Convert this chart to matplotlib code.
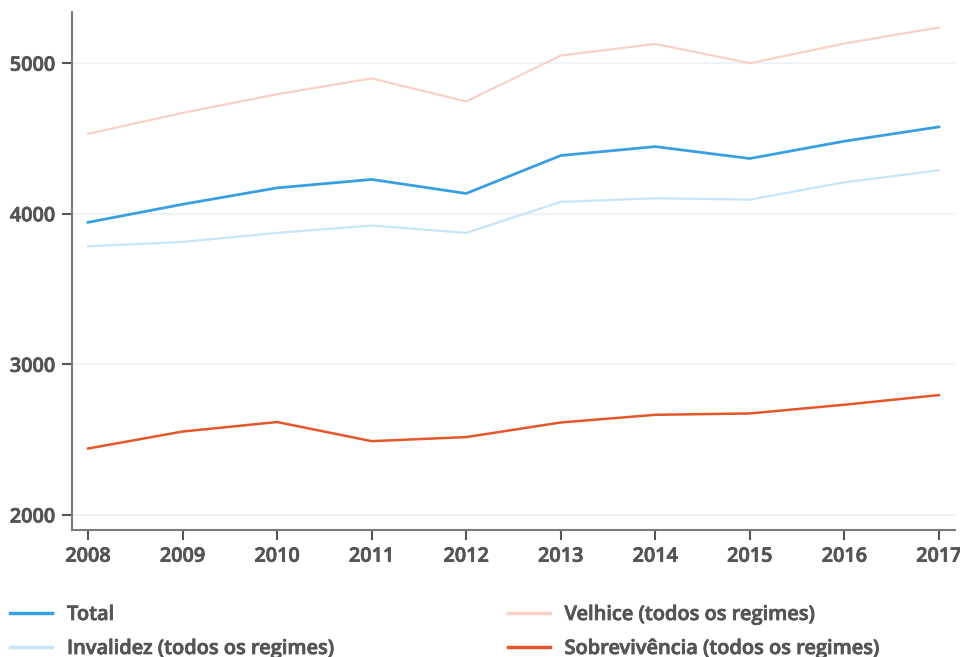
import matplotlib
matplotlib.use("Agg")
import matplotlib.pyplot as plt
import matplotlib.patheffects as pe

years = [2008, 2009, 2010, 2011, 2012, 2013, 2014, 2015, 2016, 2017]
total = [3943, 4063, 4172, 4228, 4135, 4387, 4446, 4367, 4482, 4577]
invalidez = [3784, 3813, 3873, 3922, 3873, 4079, 4103, 4094, 4209, 4289]
velhice = [4531, 4670, 4794, 4899, 4746, 5051, 5128, 5000, 5131, 5237]
sobrevivencia = [2441, 2554, 2617, 2490, 2517, 2614, 2665, 2674, 2732, 2796]
yticks = [2000, 3000, 4000, 5000]

labels = ["Total", "Invalidez (todos os regimes)",
          "Velhice (todos os regimes)", "Sobrevivência (todos os regimes)"]
colors = ["#3a9fdf", "#c6e5f6", "#f8d2c6", "#e5572b"]
widths = [2.0, 1.6, 1.6, 1.8]

plt.rcParams['font.family'] = ['Open Sans', 'DejaVu Sans']

fig = plt.figure(figsize=(9.6, 6.57), dpi=100)
ax = fig.add_axes([72/960, 1 - 530/657, (955-72)/960, (530-12)/657])

series = [total, invalidez, velhice, sobrevivencia]
handles = []
for s, c, w, l in zip(series, colors, widths, labels):
    h, = ax.plot(years, s, color=c, lw=w, label=l, zorder=3)
    handles.append(h)

ax.set_xlim(2007.83, 2017.17)
ax.set_ylim(1900, 5340)
ax.set_xticks(years)
ax.set_yticks(yticks)
ax.set_xticklabels([str(y) for y in years])
ax.set_yticklabels([str(v) for v in yticks])
ax.grid(axis='y', color='#edf3f8', lw=1.5, zorder=0)
ax.grid(axis='x', visible=False)

for side in ['top', 'right']:
    ax.spines[side].set_visible(False)
for side in ['left', 'bottom']:
    ax.spines[side].set_color('#7a7a7a')
    ax.spines[side].set_linewidth(1.5)

ax.tick_params(axis='both', direction='out', length=7, width=1.5,
               color='#555555', labelcolor='#555555', labelsize=14.3, pad=5)
thick = [pe.withStroke(linewidth=0.55, foreground='#555555')]
for t in ax.get_xticklabels() + ax.get_yticklabels():
    t.set_fontweight('semibold')
    t.set_path_effects(thick)

leg = fig.legend(handles=handles, labels=labels, ncol=2,
                 loc='upper left', bbox_to_anchor=(10/960, 1 - 605/657),
                 frameon=False, fontsize=14.4, handlelength=2.1,
                 handletextpad=0.75, columnspacing=8.65, labelspacing=0.7,
                 borderaxespad=0, borderpad=0)
for t in leg.get_texts():
    t.set_color('#555555')
    t.set_fontweight('semibold')
    t.set_path_effects(thick)
for lh in leg.get_lines():
    lh.set_linewidth(2.5)

fig.savefig("out.png", dpi=100)
